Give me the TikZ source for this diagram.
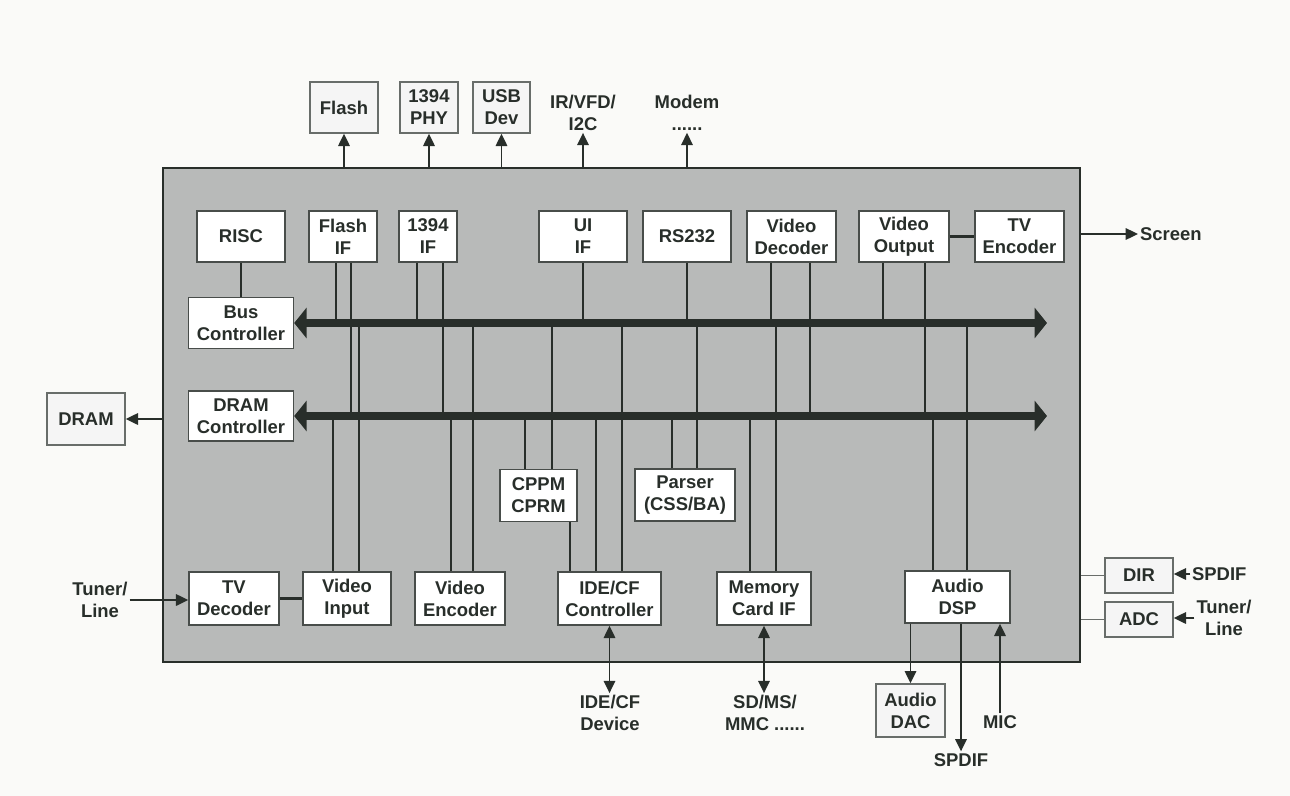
\documentclass[tikz,border=0pt]{standalone}
\usepackage{fontspec}
\setmainfont{Liberation Sans}
\usetikzlibrary{arrows.meta}

\definecolor{ink}{RGB}{40,46,42}
\definecolor{chipgray}{RGB}{184,186,185}
\definecolor{paper}{RGB}{250,250,248}

\tikzset{
  blk/.style={draw=ink!85, fill=white, line width=0.8pt, inner sep=0pt, align=center, text=ink},
  outblk/.style={blk, fill=black!4, draw=ink!70},
  lbl/.style={align=center, text=ink, inner sep=1pt},
  wire/.style={draw=ink, line width=1.6pt},
  link/.style={draw=ink, line width=2.2pt},
  arr/.style={draw=ink, line width=1.1pt, -{Triangle[length=7pt,width=6.5pt]}},
  dblarr/.style={arr, {Triangle[length=7pt,width=6.5pt]}-{Triangle[length=7pt,width=6.5pt]}},
  bus/.style={draw=ink, line width=4.8pt, {Triangle[length=7pt,width=17pt]}-{Triangle[length=7pt,width=17pt]}}
}

\begin{document}
\begin{tikzpicture}[x=0.2mm, y=-0.2mm, font=\bfseries\fontsize{10.5}{12.5}\selectfont]

\fill[paper] (0,0) rectangle (1290,796);

\node[draw=ink, fill=chipgray, line width=1.3pt, minimum width=183.4mm, minimum height=98.8mm] (chip) at (621.5,415) {};

\node[blk, minimum width=17.6mm, minimum height=10.2mm] (risc) at (241,236.5) {RISC};
\node[blk, minimum width=13.6mm, minimum height=10.2mm] (fif) at (343,236.5) {Flash\\IF};
\node[blk, minimum width=11.6mm, minimum height=10.2mm] (pif) at (428,236.5) {1394\\IF};
\node[blk, minimum width=17.6mm, minimum height=10.2mm] (uif) at (583,236.5) {UI\\IF};
\node[blk, minimum width=17.6mm, minimum height=10.2mm] (rs) at (687,236.5) {RS232};
\node[blk, minimum width=17.8mm, minimum height=10.2mm] (vdec) at (791.5,236.5) {Video\\Decoder};
\node[blk, minimum width=18mm, minimum height=10.2mm] (vout) at (904,236.5) {Video\\Output};
\node[blk, minimum width=17.8mm, minimum height=10.2mm] (tvenc) at (1019.5,236.5) {TV\\Encoder};

\node[blk, minimum width=21mm, minimum height=10.2mm] (busc) at (241,323) {Bus\\Controller};
\node[blk, minimum width=21mm, minimum height=10mm] (dramc) at (241,416) {DRAM\\Controller};
\node[outblk, minimum width=15.6mm, minimum height=10.4mm] (dram) at (86,419) {DRAM};

\node[blk, minimum width=15.4mm, minimum height=10.4mm] (cppm) at (538.5,495.5) {CPPM\\CPRM};
\node[blk, minimum width=20mm, minimum height=10.4mm] (parser) at (685,495) {Parser\\(CSS/BA)};

\node[blk, minimum width=18mm, minimum height=10.6mm] (tvdec) at (234,598.5) {TV\\Decoder};
\node[blk, minimum width=17.6mm, minimum height=10.6mm] (vin) at (347,598.5) {Video\\Input};
\node[blk, minimum width=18mm, minimum height=10.6mm] (venc) at (460,598.5) {Video\\Encoder};
\node[blk, minimum width=20.6mm, minimum height=10.6mm] (ide) at (609.5,598.5) {IDE/CF\\Controller};
\node[blk, minimum width=18.8mm, minimum height=10.6mm] (mem) at (764,598.5) {Memory\\Card IF};
\node[blk, minimum width=21mm, minimum height=10.4mm] (dsp) at (957.5,597) {Audio\\DSP};

\node[outblk, minimum width=13.6mm, minimum height=7mm] (dir) at (1139,575.5) {DIR};
\node[outblk, minimum width=13.6mm, minimum height=7mm] (adc) at (1139,619.5) {ADC};
\node[outblk, minimum width=13.8mm, minimum height=10.6mm] (dac) at (910.5,710.5) {Audio\\DAC};
\node[outblk, minimum width=13.6mm, minimum height=10.2mm] (flash) at (344,107.5) {Flash};
\node[outblk, minimum width=11.6mm, minimum height=10.2mm] (phy) at (429,107.5) {1394\\PHY};
\node[outblk, minimum width=11.4mm, minimum height=10.2mm] (usb) at (501.5,107.5) {USB\\Dev};

\node[lbl] (ir) at (583,113) {IR/VFD/\\I2C};
\node[lbl] (modem) at (687,113) {Modem\\......};
\node[lbl, anchor=west] (screen) at (1138,234) {Screen};
\node[lbl] (tunl) at (100,600) {Tuner/\\Line};
\node[lbl, anchor=west] (spdifin) at (1190,574) {SPDIF};
\node[lbl] (tunr) at (1224,618) {Tuner/\\Line};
\node[lbl] (idedev) at (610,713) {IDE/CF\\Device};
\node[lbl] (sdms) at (765,713) {SD/MS/\\MMC ......};
\node[lbl] (spdifout) at (961,760) {SPDIF};
\node[lbl] (mic) at (1000,722) {MIC};

\coordinate (b1) at (1047,323);
\coordinate (b2) at (1047,416);

\draw[wire] (risc.south) -- (busc.north);
\draw[wire] (336,0 |- fif.south) -- (336,0 |- b1);
\draw[wire] (351,0 |- fif.south) -- (351,0 |- b2);
\draw[wire] (417,0 |- pif.south) -- (417,0 |- b1);
\draw[wire] (443,0 |- pif.south) -- (443,0 |- b2);
\draw[wire] (583,0 |- uif.south) -- (583,0 |- b1);
\draw[wire] (687,0 |- rs.south) -- (687,0 |- b1);
\draw[wire] (771,0 |- vdec.south) -- (771,0 |- b1);
\draw[wire] (810,0 |- vdec.south) -- (810,0 |- b2);
\draw[wire] (883,0 |- vout.south) -- (883,0 |- b1);
\draw[wire] (925,0 |- vout.south) -- (925,0 |- b2);

\draw[wire] (333,0 |- vin.north) -- (333,0 |- b2);
\draw[wire] (359,0 |- vin.north) -- (359,0 |- b1);
\draw[wire] (451,0 |- venc.north) -- (451,0 |- b2);
\draw[wire] (473,0 |- venc.north) -- (473,0 |- b1);
\draw[wire] (525,0 |- cppm.north) -- (525,0 |- b2);
\draw[wire] (552,0 |- cppm.north) -- (552,0 |- b1);
\draw[wire] (570,0 |- cppm.south) -- (570,0 |- ide.north);
\draw[wire] (596,0 |- ide.north) -- (596,0 |- b2);
\draw[wire] (622,0 |- ide.north) -- (622,0 |- b1);
\draw[wire] (672,0 |- parser.north) -- (672,0 |- b2);
\draw[wire] (697,0 |- parser.north) -- (697,0 |- b1);
\draw[wire] (750,0 |- mem.north) -- (750,0 |- b2);
\draw[wire] (776,0 |- mem.north) -- (776,0 |- b1);
\draw[wire] (933,0 |- dsp.north) -- (933,0 |- b2);
\draw[wire] (967,0 |- dsp.north) -- (967,0 |- b1);

\draw[bus] (busc.east) -- (b1);
\draw[bus] (dramc.east) -- (b2);

\draw[link] (vout.east) -- (tvenc.west);
\draw[link] (tvdec.east) -- (vin.west);

\draw[arr] (flash.south |- chip.north) -- (flash.south);
\draw[arr] (phy.south |- chip.north) -- (phy.south);
\draw[arr] (usb.south |- chip.north) -- (usb.south);
\draw[arr] (ir.south |- chip.north) -- (ir.south);
\draw[arr] (modem.south |- chip.north) -- (modem.south);
\draw[arr] (chip.west |- dram.east) -- (dram.east);
\draw[arr] (chip.east |- screen.west) -- (screen.west);
\draw[arr] (tunl.east) -- (tunl.east -| tvdec.west);
\draw[ink!70, line width=0.9pt] (chip.east |- dir.west) -- (dir.west);
\draw[ink!70, line width=0.9pt] (chip.east |- adc.west) -- (adc.west);
\draw[arr] (spdifin.west) -- (spdifin.west -| dir.east);
\draw[arr] (tunr.west) -- (tunr.west -| adc.east);
\draw[dblarr] (ide.south) -- (ide.south |- idedev.north);
\draw[dblarr] (mem.south) -- (mem.south |- sdms.north);
\draw[arr] (dac.north |- dsp.south) -- (dac.north);
\draw[arr] (spdifout.north |- dsp.south) -- (spdifout.north);
\draw[arr] (mic.north) -- (mic.north |- dsp.south);

\end{tikzpicture}
\end{document}
